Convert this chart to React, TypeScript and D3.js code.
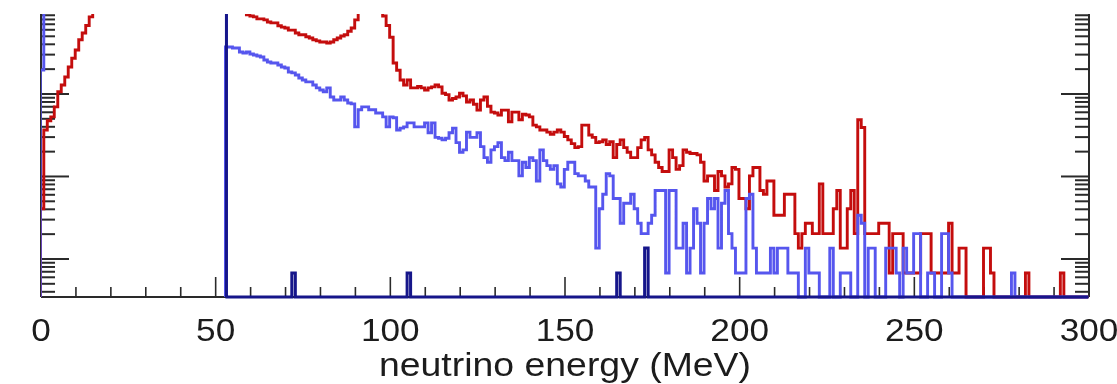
import React from 'react';
import * as d3 from 'd3';

// ---- axis / tick data ----
const X_DOMAIN = [0, 300];
const X_TICK_LABELS = [0, 50, 100, 150, 200, 250, 300];
const X_MINOR_STEP = 10;
const X_TITLE = 'neutrino energy (MeV)';
const Y_DOMAIN = [0.346, 932]; // arbitrary units, log scale (cropped view)
const CUT_ENERGY = 52.8; // MeV, vertical navy marker

// ---- histogram binning (1 MeV bins, first bin edge at -0.2 MeV) ----
const BIN_LOW_EDGE = -0.2;
const BIN_WIDTH = 1;
const EVENT_WEIGHT = 0.677; // a.u. per entry

// red histogram: entries per bin (bins 0..299)
const RED = [
  6, 54, 70, 78, 103, 157, 190, 237, 313, 400,
  504, 670, 810, 1000, 1270, 1600, 1900, 2200, 2500, 2800,
  3000, 3200, 3300, 3400, 3400, 3300, 3200, 3100, 3000, 2900,
  2800, 2700, 2600, 2500, 2400, 2300, 2250, 2200, 2150, 2100,
  2050, 2000, 1950, 1900, 1850, 1800, 1780, 1750, 1720, 1700,
  1680, 1650, 1620, 1600, 1580, 1550, 1520, 1500, 1450, 1350,
  1300, 1270, 1200, 1200, 1170, 1100, 1075, 1075, 990, 955,
  930, 877, 877, 810, 770, 770, 730, 705, 670, 650,
  630, 630, 610, 630, 670, 705, 745, 770, 850, 930,
  1170, 1500, 1800, 2300, 2600, 2400, 2000, 1600, 1300, 1000,
  720, 350, 287, 218, 190, 218, 175, 175, 182, 175,
  165, 175, 180, 190, 180, 151, 145, 125, 130, 136,
  151, 140, 118, 125, 111, 94, 125, 136, 105, 89,
  87, 82, 94, 94, 68, 89, 89, 72, 84, 82,
  78, 62, 59, 54, 54, 51, 48, 51, 54, 51,
  45, 41, 37, 33, 34, 62, 62, 47, 44, 38,
  39, 41, 36, 39, 25, 36, 41, 33, 29, 25,
  25, 33, 41, 44, 31, 27, 22, 19, 17, 17,
  31, 25, 18, 20, 31, 29, 28, 28, 27, 22,
  13, 15, 15, 10, 17, 15, 11, 12, 19, 18,
  8, 8, 6, 15, 19, 19, 10, 9, 13, 13,
  5, 5, 5, 9, 9, 9, 3, 2, 3, 4,
  4, 3, 3, 12, 3, 3, 3, 6, 10, 2,
  2, 6, 10, 3, 72, 58, 3, 3, 3, 3,
  4, 4, 4, 1, 3, 3, 3, 1, 1, 1,
  1, 1, 3, 3, 3, 1, 1, 1, 1, 1,
  4, 1, 1, 2, 2, 0, 0, 0, 0, 0,
  2, 2, 1, 0, 0, 0, 0, 0, 0, 0,
  0, 0, 1, 0, 0, 0, 0, 0, 0, 0,
  0, 0, 1, 0, 0, 0, 0, 0, 0, 0,
];

// light-blue histogram (null = bin not drawn)
const BLUE = [
  289, 3000, null, null, null, null, null, null, null, null,
  null, null, null, null, null, null, null, null, null, null,
  null, null, null, null, null, null, null, null, null, null,
  null, null, null, null, null, null, null, null, null, null,
  null, null, null, null, null, null, null, null, null, null,
  null, null, null, 548, 548, 533, 533, 477, 464, 477,
  450, 439, 427, 415, 382, 361, 351, 351, 332, 314,
  305, 273, 266, 251, 231, 218, 207, 207, 190, 175,
  165, 157, 175, 136, 125, 125, 136, 125, 115, 112,
  59, 95, 103, 103, 95, 95, 87, 87, 78, 59,
  78, 76, 54, 57, 59, 66, 66, 59, 59, 59,
  66, 50, 66, 44, 43, 41, 43, 50, 57, 38,
  29, 31, 51, 44, 44, 50, 34, 25, 22, 31,
  34, 38, 25, 23, 29, 23, 23, 15, 22, 19,
  25, 23, 13, 31, 23, 20, 18, 20, 12, 11,
  18, 22, 22, 16, 15, 15, 13, 11, 11, 2,
  6, 9, 16, 15, 8, 8, 4, 7, 7, 9,
  6, 4, 3, 3, 4, 5, 10, 10, 10, 1,
  10, 10, 2, 2, 4, 1, 2, 6, 4, 1,
  4, 8, 6, 8, 2, 7, 10, 3, 2, 1,
  1, 1, 8, 9, 2, 1, 1, 1, 1, 2,
  1, 2, 2, 2, 1, 1, 1, 0, 0, 2,
  1, 1, 1, 0, 0, 0, 2, 0, 0, 1,
  1, 1, 0, 0, 5, 4, 0, 2, 2, 0,
  0, 0, 2, 2, 2, 1, 0, 2, 1, 1,
  3, 3, 0, 0, 1, 1, 0, 0, 3, 3,
  1, 0, 0, 0, 0, 0, 0, 0, 0, 0,
  0, 0, 0, 0, 0, 0, 0, 0, 1, 0,
  0, 0, 0, 0, 0, 0, 0, 0, 0, 0,
  0, 0, 0, 0, 0, 0, 0, 0, 0, 0,
];

// dark-navy histogram (null = bin not drawn)
const NAVY = [
  null, null, null, null, null, null, null, null, null, null,
  null, null, null, null, null, null, null, null, null, null,
  null, null, null, null, null, null, null, null, null, null,
  null, null, null, null, null, null, null, null, null, null,
  null, null, null, null, null, null, null, null, null, null,
  null, null, null, 0, 0, 0, 0, 0, 0, 0,
  0, 0, 0, 0, 0, 0, 0, 0, 0, 0,
  0, 0, 1, 0, 0, 0, 0, 0, 0, 0,
  0, 0, 0, 0, 0, 0, 0, 0, 0, 0,
  0, 0, 0, 0, 0, 0, 0, 0, 0, 0,
  0, 0, 0, 0, 0, 1, 0, 0, 0, 0,
  0, 0, 0, 0, 0, 0, 0, 0, 0, 0,
  0, 0, 0, 0, 0, 0, 0, 0, 0, 0,
  0, 0, 0, 0, 0, 0, 0, 0, 0, 0,
  0, 0, 0, 0, 0, 0, 0, 0, 0, 0,
  0, 0, 0, 0, 0, 0, 0, 0, 0, 0,
  0, 0, 0, 0, 0, 1, 0, 0, 0, 0,
  0, 0, 0, 2, 0, 0, 0, 0, 0, 0,
  0, 0, 0, 0, 0, 0, 0, 0, 0, 0,
  0, 0, 0, 0, 0, 0, 0, 0, 0, 0,
  0, 0, 0, 0, 0, 0, 0, 0, 0, 0,
  0, 0, 0, 0, 0, 0, 0, 0, 0, 0,
  0, 0, 0, 0, 0, 0, 0, 0, 0, 0,
  0, 0, 0, 0, 0, 0, 0, 0, 0, 0,
  0, 0, 0, 0, 0, 0, 0, 0, 0, 0,
  0, 0, 0, 0, 0, 0, 0, 0, 0, 0,
  0, 0, 0, 0, 0, 0, 0, 0, 0, 0,
  0, 0, 0, 0, 0, 0, 0, 0, 0, 0,
  0, 0, 0, 0, 0, 0, 0, 0, 0, 0,
  0, 0, 0, 0, 0, 0, 0, 0, 0, 0,
];

const FONT = "'Liberation Sans', Arial, Helvetica, sans-serif";

export default function App() {
  const W = 1117;
  const H = 384;
  const plot = { left: 41, right: 1089, top: 14, bottom: 297 };

  const x = d3.scaleLinear().domain(X_DOMAIN).range([plot.left, plot.right]);
  const y = d3.scaleLog().domain(Y_DOMAIN).range([plot.bottom, plot.top]);

  const yOf = (c: number) =>
    c <= 0 ? plot.bottom : Math.max(plot.top - 8, Math.min(plot.bottom, y(c * EVENT_WEIGHT)));

  const histPath = (vals: (number | null)[]) => {
    const p = d3.path();
    let open = false;
    vals.forEach((v, k) => {
      if (v === null) {
        open = false;
        return;
      }
      const x0 = x(BIN_LOW_EDGE + k * BIN_WIDTH);
      const x1 = x(BIN_LOW_EDGE + (k + 1) * BIN_WIDTH);
      const yy = yOf(v);
      if (!open) {
        p.moveTo(x0, plot.bottom);
        open = true;
      }
      p.lineTo(x0, yy);
      p.lineTo(x1, yy);
    });
    return p.toString();
  };

  const yTicks = y.ticks();
  const isDecade = (t: number) => Math.abs(Math.log10(t) - Math.round(Math.log10(t))) < 1e-6;
  const xMinor = d3.range(X_DOMAIN[0], X_DOMAIN[1] + 1, X_MINOR_STEP).filter((t) => !X_TICK_LABELS.includes(t));

  const axisColor = '#2a2a2a';
  const stretch = 1.1;

  return (
    <svg
      width={W}
      height={H}
      style={{ position: 'absolute', left: 0, top: 0, background: '#ffffff' }}
    >
      <defs>
        <clipPath id="plotClip">
          <rect x={plot.left} y={plot.top} width={plot.right - plot.left} height={plot.bottom - plot.top + 4} />
        </clipPath>
        <filter id="soft" x="-2%" y="-2%" width="104%" height="104%">
          <feGaussianBlur stdDeviation={0.45} />
        </filter>
      </defs>
      <rect x={0} y={0} width={W} height={H} fill="#ffffff" />

      <g filter="url(#soft)">
        {/* axes frame */}
        <g stroke={axisColor} strokeWidth={2} fill="none">
          <line x1={plot.left} x2={plot.left} y1={plot.top} y2={plot.bottom} />
          <line x1={plot.right} x2={plot.right} y1={plot.top} y2={plot.bottom} />
          <line x1={plot.left} x2={plot.right} y1={plot.bottom} y2={plot.bottom} />
        </g>
        {/* y ticks left and right */}
        <g stroke={axisColor} strokeWidth={2}>
          {yTicks.map((t, i) => {
            const len = isDecade(t) ? 28 : 14;
            const yy = y(t);
            if (yy < plot.top || yy > plot.bottom) return null;
            return (
              <g key={i}>
                <line x1={plot.left} x2={plot.left + len} y1={yy} y2={yy} />
                <line x1={plot.right} x2={plot.right - len} y1={yy} y2={yy} />
              </g>
            );
          })}
        </g>
        {/* x ticks */}
        <g stroke={axisColor} strokeWidth={1.6}>
          {X_TICK_LABELS.map((t) => (
            <line key={'M' + t} x1={x(t)} x2={x(t)} y1={plot.bottom} y2={plot.bottom - 20} />
          ))}
          {xMinor.map((t) => (
            <line key={'m' + t} x1={x(t)} x2={x(t)} y1={plot.bottom} y2={plot.bottom - 10} />
          ))}
        </g>

        {/* histograms */}
        <g clipPath="url(#plotClip)" fill="none" strokeLinejoin="miter">
          <path d={histPath(RED)} stroke="#c40c0c" strokeWidth={2.9} />
          <path d={histPath(BLUE)} stroke="#5656ee" strokeWidth={2.9} />
          <path d={histPath(NAVY)} stroke="#13138a" strokeWidth={3} />
          <line
            x1={x(CUT_ENERGY) + 1}
            x2={x(CUT_ENERGY) + 1}
            y1={plot.bottom}
            y2={plot.top}
            stroke="#13138a"
            strokeWidth={3}
          />
        </g>

        {/* x tick labels */}
        <g fill="#1a1a1a" fontFamily={FONT} fontSize={32} textAnchor="middle">
          {X_TICK_LABELS.map((t) => (
            <text key={t} transform={`translate(${x(t)},341) scale(${stretch},1)`}>
              {t}
            </text>
          ))}
        </g>
        <text
          transform={`translate(${x(150)},376) scale(${stretch},1)`}
          fill="#1a1a1a"
          fontFamily={FONT}
          fontSize={34}
          textAnchor="middle"
        >
          {X_TITLE}
        </text>
      </g>
    </svg>
  );
}
